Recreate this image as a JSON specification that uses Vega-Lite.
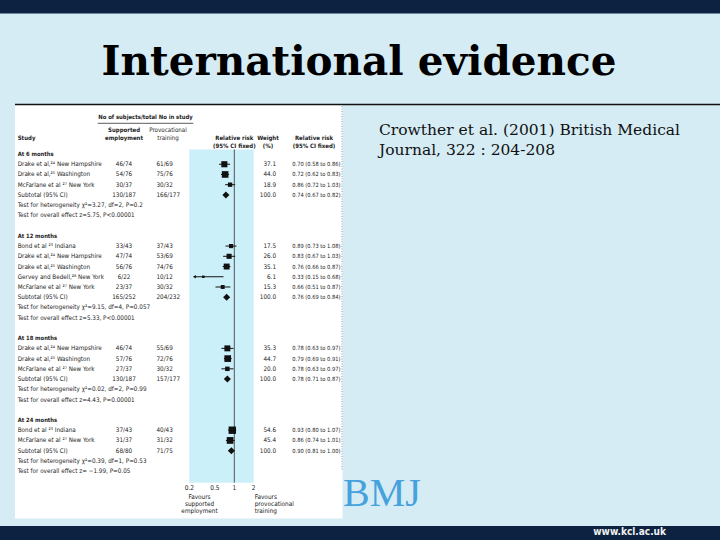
{
  "$schema": "https://vega.github.io/schema/vega-lite/v6.json",
  "width": 720,
  "height": 540,
  "autosize": {"type": "fit", "contains": "padding"},
  "padding": 0,
  "background": "#d5ecf5",
  "config": {
    "view": {"stroke": null},
    "text": {"font": "Liberation Sans Narrow, Arial Narrow, DejaVu Sans Condensed, sans-serif", "color": "#222222"}
  },
  "datasets": {
    "rows": [
      {"row": 0, "kind": "group", "label": "At 6 months"},
      {"row": 1, "kind": "study", "label": "Drake et al,²⁴ New Hampshire", "sup": "46/74", "prov": "61/69", "weight": 37.1, "rr": 0.70, "lo": 0.58, "hi": 0.86, "ci": "0.70 (0.58 to 0.86)"},
      {"row": 2, "kind": "study", "label": "Drake et al,²⁵ Washington", "sup": "54/76", "prov": "75/76", "weight": 44.0, "rr": 0.72, "lo": 0.62, "hi": 0.83, "ci": "0.72 (0.62 to 0.83)"},
      {"row": 3, "kind": "study", "label": "McFarlane et al ²⁷ New York", "sup": "30/37", "prov": "30/32", "weight": 18.9, "rr": 0.86, "lo": 0.72, "hi": 1.03, "ci": "0.86 (0.72 to 1.03)"},
      {"row": 4, "kind": "subtotal", "label": "Subtotal (95% CI)", "sup": "130/187", "prov": "166/177", "weight": 100.0, "rr": 0.74, "lo": 0.67, "hi": 0.82, "ci": "0.74 (0.67 to 0.82)"},
      {"row": 5, "kind": "test", "label": "Test for heterogeneity χ²=3.27, df=2, P=0.2"},
      {"row": 6, "kind": "test", "label": "Test for overall effect z=5.75, P<0.00001"},
      {"row": 8, "kind": "group", "label": "At 12 months"},
      {"row": 9, "kind": "study", "label": "Bond et al ²³ Indiana", "sup": "33/43", "prov": "37/43", "weight": 17.5, "rr": 0.89, "lo": 0.73, "hi": 1.08, "ci": "0.89 (0.73 to 1.08)"},
      {"row": 10, "kind": "study", "label": "Drake et al,²⁴ New Hampshire", "sup": "47/74", "prov": "53/69", "weight": 26.0, "rr": 0.83, "lo": 0.67, "hi": 1.03, "ci": "0.83 (0.67 to 1.03)"},
      {"row": 11, "kind": "study", "label": "Drake et al,²⁵ Washington", "sup": "56/76", "prov": "74/76", "weight": 35.1, "rr": 0.76, "lo": 0.66, "hi": 0.87, "ci": "0.76 (0.66 to 0.87)"},
      {"row": 12, "kind": "study", "label": "Gervey and Bedell,²⁶ New York", "sup": "6/22", "prov": "10/12", "weight": 6.1, "rr": 0.33, "lo": 0.15, "hi": 0.68, "ci": "0.33 (0.15 to 0.68)"},
      {"row": 13, "kind": "study", "label": "McFarlane et al ²⁷ New York", "sup": "23/37", "prov": "30/32", "weight": 15.3, "rr": 0.66, "lo": 0.51, "hi": 0.87, "ci": "0.66 (0.51 to 0.87)"},
      {"row": 14, "kind": "subtotal", "label": "Subtotal (95% CI)", "sup": "165/252", "prov": "204/232", "weight": 100.0, "rr": 0.76, "lo": 0.69, "hi": 0.84, "ci": "0.76 (0.69 to 0.84)"},
      {"row": 15, "kind": "test", "label": "Test for heterogeneity χ²=9.15, df=4, P=0.057"},
      {"row": 16, "kind": "test", "label": "Test for overall effect z=5.33, P<0.00001"},
      {"row": 18, "kind": "group", "label": "At 18 months"},
      {"row": 19, "kind": "study", "label": "Drake et al,²⁴ New Hampshire", "sup": "46/74", "prov": "55/69", "weight": 35.3, "rr": 0.78, "lo": 0.63, "hi": 0.97, "ci": "0.78 (0.63 to 0.97)"},
      {"row": 20, "kind": "study", "label": "Drake et al,²⁵ Washington", "sup": "57/76", "prov": "72/76", "weight": 44.7, "rr": 0.79, "lo": 0.69, "hi": 0.91, "ci": "0.79 (0.69 to 0.91)"},
      {"row": 21, "kind": "study", "label": "McFarlane et al ²⁷ New York", "sup": "27/37", "prov": "30/32", "weight": 20.0, "rr": 0.78, "lo": 0.63, "hi": 0.97, "ci": "0.78 (0.63 to 0.97)"},
      {"row": 22, "kind": "subtotal", "label": "Subtotal (95% CI)", "sup": "130/187", "prov": "157/177", "weight": 100.0, "rr": 0.78, "lo": 0.71, "hi": 0.87, "ci": "0.78 (0.71 to 0.87)"},
      {"row": 23, "kind": "test", "label": "Test for heterogeneity χ²=0.02, df=2, P=0.99"},
      {"row": 24, "kind": "test", "label": "Test for overall effect z=4.43, P=0.00001"},
      {"row": 26, "kind": "group", "label": "At 24 months"},
      {"row": 27, "kind": "study", "label": "Bond et al ²³ Indiana", "sup": "37/43", "prov": "40/43", "weight": 54.6, "rr": 0.93, "lo": 0.80, "hi": 1.07, "ci": "0.93 (0.80 to 1.07)"},
      {"row": 28, "kind": "study", "label": "McFarlane et al ²⁷ New York", "sup": "31/37", "prov": "31/32", "weight": 45.4, "rr": 0.86, "lo": 0.74, "hi": 1.01, "ci": "0.86 (0.74 to 1.01)"},
      {"row": 29, "kind": "subtotal", "label": "Subtotal (95% CI)", "sup": "68/80", "prov": "71/75", "weight": 100.0, "rr": 0.90, "lo": 0.81, "hi": 1.00, "ci": "0.90 (0.81 to 1.00)"},
      {"row": 30, "kind": "test", "label": "Test for heterogeneity χ²=0.39, df=1, P=0.53"},
      {"row": 31, "kind": "test", "label": "Test for overall effect z= −1.99, P=0.05"}
    ],
    "hdr": [
      {"row": -3.6, "subj": "No of subjects/total No in study"},
      {"row": -2.35, "sup": "Supported", "prov": "Provocational"},
      {"row": -1.55, "study": "Study", "sup": "employment", "prov": "training", "rrh": "Relative risk", "wt": "Weight", "cih": "Relative risk"},
      {"row": -0.78, "rrh": "(95% CI fixed)", "wt": "(%)", "cih": "(95% CI fixed)"}
    ],
    "ticks": [
      {"v": 0.2, "t": "0.2"},
      {"v": 0.5, "t": "0.5"},
      {"v": 1, "t": "1"},
      {"v": 2, "t": "2"}
    ]
  },
  "layer": [
    {
      "data": {"values": [{}]},
      "mark": {"type": "rect", "color": "#0d2240"},
      "encoding": {"x": {"value": 0}, "x2": {"value": 720}, "y": {"value": 0}, "y2": {"value": 13.5}}
    },
    {
      "data": {"values": [{}]},
      "mark": {"type": "rect", "color": "#0d2240"},
      "encoding": {"x": {"value": 0}, "x2": {"value": 720}, "y": {"value": 526}, "y2": {"value": 540}}
    },
    {
      "data": {"values": [{}]},
      "mark": {"type": "rect", "color": "#ffffff"},
      "encoding": {"x": {"value": 15}, "x2": {"value": 342.5}, "y": {"value": 104}, "y2": {"value": 518.5}}
    },
    {
      "data": {"values": [{}]},
      "mark": {"type": "rule", "color": "#9a9a9a", "strokeWidth": 1, "strokeDash": [1, 1.5]},
      "encoding": {"x": {"value": 342}, "y": {"value": 106}, "y2": {"value": 470}}
    },
    {
      "data": {"values": [{}]},
      "mark": {"type": "rule", "color": "#111111", "strokeWidth": 1.6},
      "encoding": {"x": {"value": 15}, "x2": {"value": 720}, "y": {"value": 104.5}}
    },
    {
      "data": {"values": [{}]},
      "mark": {"type": "rect", "color": "#ccf0f9"},
      "encoding": {
        "x": {"datum": 0.2, "type": "quantitative", "scale": {"type": "log", "domain": [0.2, 2], "range": [189.3, 253.7], "nice": false}, "axis": null},
        "x2": {"datum": 2},
        "y": {"datum": -0.44, "type": "quantitative", "scale": {"domain": [0, 31], "range": [154, 471.13], "nice": false, "zero": false}, "axis": null},
        "y2": {"datum": 32.13}
      }
    },
    {
      "data": {"values": [{}]},
      "mark": {"type": "rule", "color": "#555555", "strokeWidth": 1},
      "encoding": {
        "x": {"datum": 1, "type": "quantitative"},
        "y": {"datum": -0.44, "type": "quantitative"},
        "y2": {"datum": 32.13}
      }
    },
    {
      "data": {"name": "rows"},
      "transform": [
        {"filter": "datum.kind == 'study'"},
        {"calculate": "max(datum.lo, 0.24)", "as": "lo_plot"}
      ],
      "mark": {"type": "rule", "color": "#111111", "strokeWidth": 1},
      "encoding": {
        "x": {"field": "lo_plot", "type": "quantitative"},
        "x2": {"field": "hi"},
        "y": {"field": "row", "type": "quantitative"}
      }
    },
    {
      "data": {"name": "rows"},
      "transform": [
        {"filter": "datum.kind == 'study' && datum.lo < 0.2"},
        {"calculate": "max(datum.lo, 0.24)", "as": "lo_plot"}
      ],
      "mark": {"type": "point", "shape": "triangle-left", "filled": true, "color": "#111111", "size": 12, "opacity": 1},
      "encoding": {
        "x": {"field": "lo_plot", "type": "quantitative"},
        "y": {"field": "row", "type": "quantitative"}
      }
    },
    {
      "data": {"name": "rows"},
      "transform": [{"filter": "datum.kind == 'study'"}],
      "mark": {"type": "point", "shape": "square", "filled": true, "color": "#111111", "opacity": 1},
      "encoding": {
        "x": {"field": "rr", "type": "quantitative"},
        "y": {"field": "row", "type": "quantitative"},
        "size": {"field": "weight", "type": "quantitative", "scale": {"domain": [0, 100], "range": [0, 100]}, "legend": null}
      }
    },
    {
      "data": {"name": "rows"},
      "transform": [{"filter": "datum.kind == 'subtotal'"}],
      "mark": {"type": "point", "shape": "diamond", "filled": true, "color": "#111111", "size": 50, "opacity": 1},
      "encoding": {
        "x": {"field": "rr", "type": "quantitative"},
        "y": {"field": "row", "type": "quantitative"}
      }
    },
    {
      "data": {"name": "ticks"},
      "mark": {"type": "text", "align": "center", "baseline": "middle", "fontSize": 6.5},
      "encoding": {
        "x": {"field": "v", "type": "quantitative"},
        "y": {"datum": 32.62, "type": "quantitative"},
        "text": {"field": "t", "type": "nominal"}
      }
    },
    {
      "data": {"values": [{}]},
      "mark": {"type": "text", "align": "center", "baseline": "top", "fontSize": 6.4, "lineHeight": 7, "text": ["Favours", "supported", "employment"]},
      "encoding": {
        "x": {"datum": 0.2882, "type": "quantitative"},
        "y": {"datum": 33.2, "type": "quantitative"}
      }
    },
    {
      "data": {"values": [{}]},
      "mark": {"type": "text", "align": "left", "baseline": "top", "fontSize": 6.4, "lineHeight": 7, "text": ["Favours", "provocational", "training"]},
      "encoding": {
        "x": {"datum": 2.074, "type": "quantitative"},
        "y": {"datum": 33.2, "type": "quantitative"}
      }
    },
    {
      "data": {"name": "rows"},
      "transform": [{"filter": "datum.kind != 'group'"}],
      "mark": {"type": "text", "align": "left", "baseline": "middle", "fontSize": 6.3},
      "encoding": {
        "x": {"datum": 0.000433, "type": "quantitative"},
        "y": {"field": "row", "type": "quantitative"},
        "text": {"field": "label", "type": "nominal"}
      }
    },
    {
      "data": {"name": "rows"},
      "transform": [{"filter": "datum.kind == 'group'"}],
      "mark": {"type": "text", "align": "left", "baseline": "middle", "fontSize": 5.8, "fontWeight": "bold"},
      "encoding": {
        "x": {"datum": 0.000433, "type": "quantitative"},
        "y": {"field": "row", "type": "quantitative"},
        "text": {"field": "label", "type": "nominal"}
      }
    },
    {
      "data": {"name": "rows"},
      "transform": [{"filter": "isValid(datum.sup)"}],
      "mark": {"type": "text", "align": "center", "baseline": "middle", "fontSize": 6.3},
      "encoding": {
        "x": {"datum": 0.01938, "type": "quantitative"},
        "y": {"field": "row", "type": "quantitative"},
        "text": {"field": "sup", "type": "nominal"}
      }
    },
    {
      "data": {"name": "rows"},
      "transform": [{"filter": "isValid(datum.prov)"}],
      "mark": {"type": "text", "align": "left", "baseline": "middle", "fontSize": 6.3},
      "encoding": {
        "x": {"datum": 0.0619, "type": "quantitative"},
        "y": {"field": "row", "type": "quantitative"},
        "text": {"field": "prov", "type": "nominal"}
      }
    },
    {
      "data": {"name": "rows"},
      "transform": [{"filter": "isValid(datum.weight)"}],
      "mark": {"type": "text", "align": "right", "baseline": "middle", "fontSize": 6.3},
      "encoding": {
        "x": {"datum": 4.442, "type": "quantitative"},
        "y": {"field": "row", "type": "quantitative"},
        "text": {"field": "weight", "type": "quantitative", "format": ".1f"}
      }
    },
    {
      "data": {"name": "rows"},
      "transform": [{"filter": "isValid(datum.ci)"}],
      "mark": {"type": "text", "align": "left", "baseline": "middle", "fontSize": 5.7},
      "encoding": {
        "x": {"datum": 7.955, "type": "quantitative"},
        "y": {"field": "row", "type": "quantitative"},
        "text": {"field": "ci", "type": "nominal"}
      }
    },
    {
      "data": {"name": "hdr"},
      "transform": [{"filter": "isValid(datum.study)"}],
      "mark": {"type": "text", "align": "left", "baseline": "middle", "fontSize": 6, "fontWeight": "bold"},
      "encoding": {
        "x": {"datum": 0.000433, "type": "quantitative"},
        "y": {"field": "row", "type": "quantitative"},
        "text": {"field": "study", "type": "nominal"}
      }
    },
    {
      "data": {"name": "hdr"},
      "transform": [{"filter": "isValid(datum.subj)"}],
      "mark": {"type": "text", "align": "center", "baseline": "middle", "fontSize": 5.9, "fontWeight": "bold"},
      "encoding": {
        "x": {"datum": 0.0418, "type": "quantitative"},
        "y": {"field": "row", "type": "quantitative"},
        "text": {"field": "subj", "type": "nominal"}
      }
    },
    {
      "data": {"name": "hdr"},
      "transform": [{"filter": "isValid(datum.sup)"}],
      "mark": {"type": "text", "align": "center", "baseline": "middle", "fontSize": 6, "fontWeight": "bold"},
      "encoding": {
        "x": {"datum": 0.01938, "type": "quantitative"},
        "y": {"field": "row", "type": "quantitative"},
        "text": {"field": "sup", "type": "nominal"}
      }
    },
    {
      "data": {"name": "hdr"},
      "transform": [{"filter": "isValid(datum.prov)"}],
      "mark": {"type": "text", "align": "center", "baseline": "middle", "fontSize": 6.2},
      "encoding": {
        "x": {"datum": 0.09344, "type": "quantitative"},
        "y": {"field": "row", "type": "quantitative"},
        "text": {"field": "prov", "type": "nominal"}
      }
    },
    {
      "data": {"name": "hdr"},
      "transform": [{"filter": "isValid(datum.rrh)"}],
      "mark": {"type": "text", "align": "center", "baseline": "middle", "fontSize": 6, "fontWeight": "bold"},
      "encoding": {
        "x": {"datum": 1, "type": "quantitative"},
        "y": {"field": "row", "type": "quantitative"},
        "text": {"field": "rrh", "type": "nominal"}
      }
    },
    {
      "data": {"name": "hdr"},
      "transform": [{"filter": "isValid(datum.wt)"}],
      "mark": {"type": "text", "align": "center", "baseline": "middle", "fontSize": 6, "fontWeight": "bold"},
      "encoding": {
        "x": {"datum": 3.337, "type": "quantitative"},
        "y": {"field": "row", "type": "quantitative"},
        "text": {"field": "wt", "type": "nominal"}
      }
    },
    {
      "data": {"name": "hdr"},
      "transform": [{"filter": "isValid(datum.cih)"}],
      "mark": {"type": "text", "align": "center", "baseline": "middle", "fontSize": 6, "fontWeight": "bold"},
      "encoding": {
        "x": {"datum": 17.29, "type": "quantitative"},
        "y": {"field": "row", "type": "quantitative"},
        "text": {"field": "cih", "type": "nominal"}
      }
    },
    {
      "data": {"values": [{}]},
      "mark": {"type": "rule", "color": "#333333", "strokeWidth": 0.8},
      "encoding": {
        "x": {"datum": 0.007567, "type": "quantitative"},
        "x2": {"datum": 0.2309},
        "y": {"datum": -3.0, "type": "quantitative"}
      }
    },
    {
      "data": {"values": [{}]},
      "mark": {"type": "text", "text": "International evidence", "font": "DejaVu Serif", "fontWeight": "bold", "fontSize": 40.5, "align": "center", "baseline": "alphabetic", "color": "#000000"},
      "encoding": {"x": {"value": 359}, "y": {"value": 75}}
    },
    {
      "data": {"values": [{}]},
      "mark": {"type": "text", "text": ["Crowther et al. (2001) British Medical", "Journal, 322 : 204-208"], "lineHeight": 20, "font": "DejaVu Serif", "fontSize": 15.5, "align": "left", "baseline": "alphabetic", "color": "#111111"},
      "encoding": {"x": {"value": 379}, "y": {"value": 135}}
    },
    {
      "data": {"values": [{}]},
      "mark": {"type": "text", "text": "BMJ", "font": "Liberation Serif", "fontSize": 40, "align": "left", "baseline": "alphabetic", "color": "#45a2dd"},
      "encoding": {"x": {"value": 343}, "y": {"value": 506}}
    },
    {
      "data": {"values": [{}]},
      "mark": {"type": "text", "text": "www.kcl.ac.uk", "fontWeight": "bold", "fontSize": 10, "align": "right", "baseline": "middle", "color": "#f0f0f0"},
      "encoding": {"x": {"value": 666}, "y": {"value": 532}}
    }
  ]
}
